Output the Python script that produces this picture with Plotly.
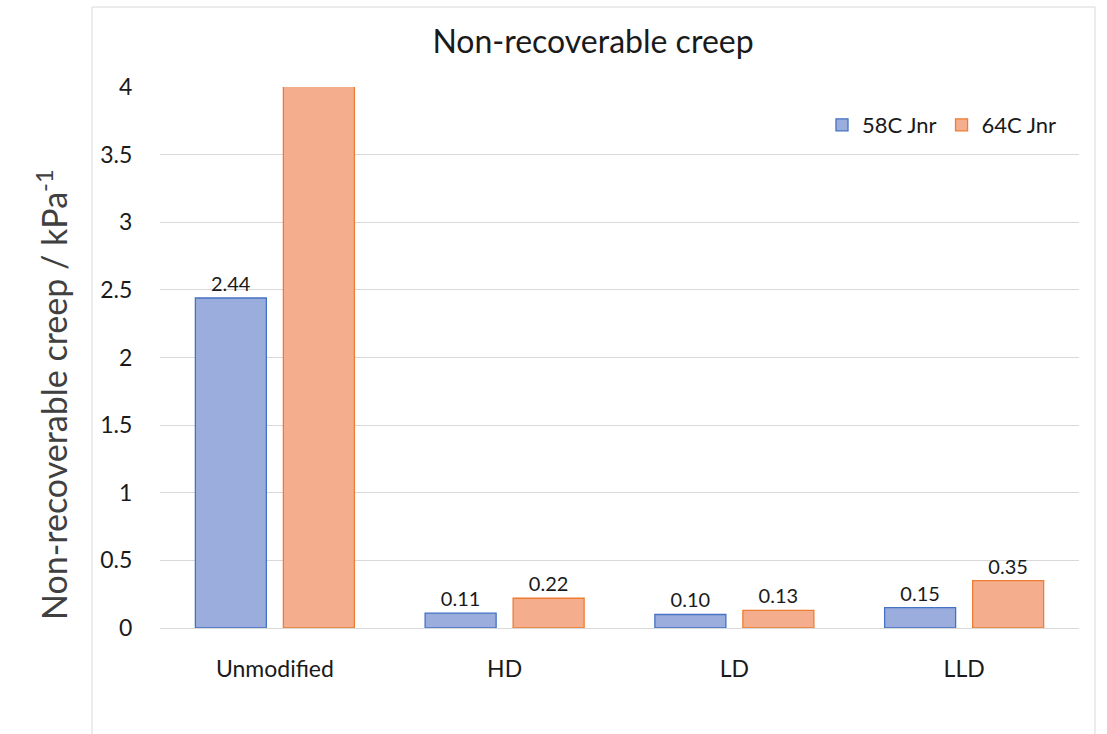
import plotly.graph_objects as go

categories = ["Unmodified", "HD", "LD", "LLD"]
jnr_58c = [2.44, 0.11, 0.10, 0.15]
jnr_64c = [4.6, 0.22, 0.13, 0.35]
labels_58c = ["2.44", "0.11", "0.10", "0.15"]
labels_64c = ["", "0.22", "0.13", "0.35"]
y_ticks = [0, 0.5, 1, 1.5, 2, 2.5, 3, 3.5, 4]
y_tick_text = ["0", "0.5", "1", "1.5", "2", "2.5", "3", "3.5", "4"]

FONT = "Lato"
TXT = "#1a1a1a"

fig = go.Figure()
fig.add_trace(go.Bar(
    x=categories, y=jnr_58c, name="58C Jnr",
    text=labels_58c, textposition="outside",
    textfont=dict(size=20, color=TXT, family=FONT),
    marker=dict(color="#9aaddc", line=dict(color="#4472c4", width=1.3)),
    cliponaxis=True,
))
fig.add_trace(go.Bar(
    x=categories, y=jnr_64c, name="64C Jnr",
    text=labels_64c, textposition="outside",
    textfont=dict(size=20, color=TXT, family=FONT),
    marker=dict(color="#f5ae8d", line=dict(color="#ed7d31", width=1.3)),
    cliponaxis=True,
))

W, H = 1107, 734
L, R, T, B = 160, 28, 87, 106
pw, ph = W - L - R, H - T - B

def px(x):
    return (x - L) / pw

def py(y):
    return (H - B - y) / ph

fig.update_layout(
    width=W, height=H,
    margin=dict(l=L, r=R, t=T, b=B),
    paper_bgcolor="white", plot_bgcolor="white",
    barmode="group", bargap=0.234, bargroupgap=0.193,
    font=dict(family=FONT, color=TXT),
    title=dict(text="Non-recoverable creep", xref="paper", x=px(593), xanchor="center",
               yref="container", y=1 - 42 / H, yanchor="middle",
               font=dict(size=32, family=FONT, color=TXT)),
    legend=dict(orientation="h", x=px(1062), xanchor="right", y=py(125), yanchor="middle",
                font=dict(size=22, family=FONT, color=TXT),
                bgcolor="rgba(0,0,0,0)", itemwidth=30, traceorder="normal"),
    xaxis=dict(showgrid=False, showline=False, ticks="outside", ticklen=20,
               tickcolor="rgba(0,0,0,0)", tickfont=dict(size=23, family=FONT, color=TXT)),
    yaxis=dict(range=[0, 4], tickvals=y_ticks, ticktext=y_tick_text,
               showgrid=True, gridcolor="#d9d9d9", gridwidth=1,
               zeroline=True, zerolinecolor="#d9d9d9", zerolinewidth=1,
               showline=False, ticks="outside", ticklen=22, tickcolor="rgba(0,0,0,0)",
               tickfont=dict(size=23, family=FONT, color=TXT)),
    showlegend=True,
)

fig.add_annotation(
    text="Non-recoverable creep / kPa<sup>-1</sup>", textangle=-90,
    xref="paper", yref="paper", x=px(52), y=py(395), xanchor="center", yanchor="middle",
    showarrow=False, font=dict(size=34, family=FONT, color="#404040"),
)

fig.add_shape(type="rect", xref="paper", yref="paper",
              x0=px(92), x1=px(1095), y0=py(745), y1=py(7),
              line=dict(color="#d9d9d9", width=1), fillcolor="rgba(0,0,0,0)", layer="below")

fig.write_html("out.html")
